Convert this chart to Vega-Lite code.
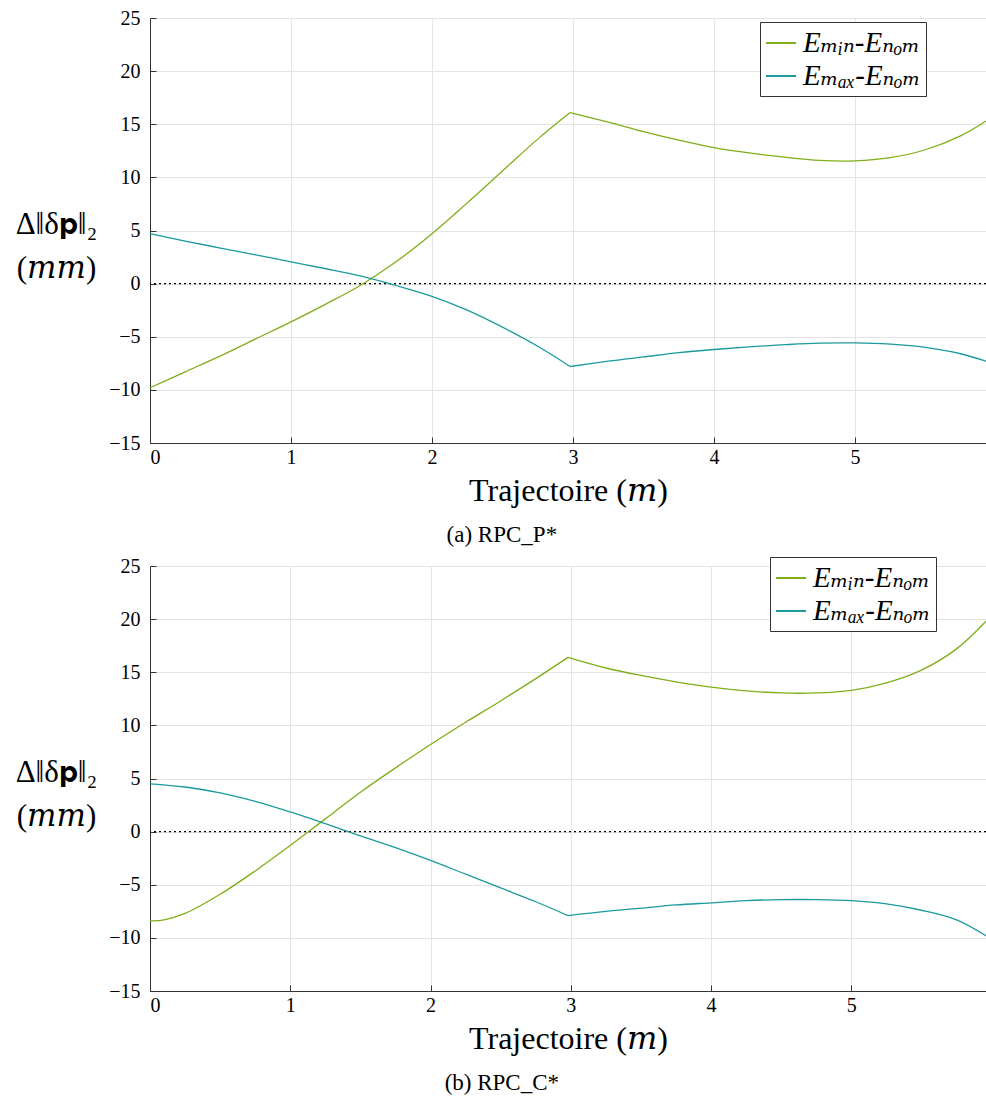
{
  "$schema": "https://vega.github.io/schema/vega-lite/v6.json",
  "padding": {"top": 8, "left": 15, "right": 0, "bottom": 0},
  "background": "white",
  "spacing": 9,
  "datasets": {
    "p1": [
      {"x": 0, "v": -9.8, "s": "Eₘᵢₙ-Eₙₒₘ", "g": 1},
      {"x": 0.25, "v": -8.3, "s": "Eₘᵢₙ-Eₙₒₘ", "g": 1},
      {"x": 0.5, "v": -6.8, "s": "Eₘᵢₙ-Eₙₒₘ", "g": 1},
      {"x": 0.75, "v": -5.2, "s": "Eₘᵢₙ-Eₙₒₘ", "g": 1},
      {"x": 1.0, "v": -3.6, "s": "Eₘᵢₙ-Eₙₒₘ", "g": 1},
      {"x": 1.25, "v": -1.9, "s": "Eₘᵢₙ-Eₙₒₘ", "g": 1},
      {"x": 1.5, "v": -0.1, "s": "Eₘᵢₙ-Eₙₒₘ", "g": 1},
      {"x": 1.75, "v": 2.1, "s": "Eₘᵢₙ-Eₙₒₘ", "g": 1},
      {"x": 2.0, "v": 4.7, "s": "Eₘᵢₙ-Eₙₒₘ", "g": 1},
      {"x": 2.25, "v": 7.6, "s": "Eₘᵢₙ-Eₙₒₘ", "g": 1},
      {"x": 2.5, "v": 10.6, "s": "Eₘᵢₙ-Eₙₒₘ", "g": 1},
      {"x": 2.75, "v": 13.6, "s": "Eₘᵢₙ-Eₙₒₘ", "g": 1},
      {"x": 2.98, "v": 16.1, "s": "Eₘᵢₙ-Eₙₒₘ", "g": 1},
      {"x": 2.98, "v": 16.1, "s": "Eₘᵢₙ-Eₙₒₘ", "g": 2},
      {"x": 3.25, "v": 15.2, "s": "Eₘᵢₙ-Eₙₒₘ", "g": 2},
      {"x": 3.5, "v": 14.3, "s": "Eₘᵢₙ-Eₙₒₘ", "g": 2},
      {"x": 3.75, "v": 13.5, "s": "Eₘᵢₙ-Eₙₒₘ", "g": 2},
      {"x": 4.0, "v": 12.8, "s": "Eₘᵢₙ-Eₙₒₘ", "g": 2},
      {"x": 4.25, "v": 12.3, "s": "Eₘᵢₙ-Eₙₒₘ", "g": 2},
      {"x": 4.5, "v": 11.9, "s": "Eₘᵢₙ-Eₙₒₘ", "g": 2},
      {"x": 4.75, "v": 11.6, "s": "Eₘᵢₙ-Eₙₒₘ", "g": 2},
      {"x": 5.0, "v": 11.55, "s": "Eₘᵢₙ-Eₙₒₘ", "g": 2},
      {"x": 5.25, "v": 11.85, "s": "Eₘᵢₙ-Eₙₒₘ", "g": 2},
      {"x": 5.5, "v": 12.6, "s": "Eₘᵢₙ-Eₙₒₘ", "g": 2},
      {"x": 5.75, "v": 13.9, "s": "Eₘᵢₙ-Eₙₒₘ", "g": 2},
      {"x": 5.93, "v": 15.3, "s": "Eₘᵢₙ-Eₙₒₘ", "g": 2},
      {"x": 0, "v": 4.7, "s": "Eₘₐₓ-Eₙₒₘ", "g": 1},
      {"x": 0.25, "v": 4.0, "s": "Eₘₐₓ-Eₙₒₘ", "g": 1},
      {"x": 0.5, "v": 3.35, "s": "Eₘₐₓ-Eₙₒₘ", "g": 1},
      {"x": 0.75, "v": 2.7, "s": "Eₘₐₓ-Eₙₒₘ", "g": 1},
      {"x": 1.0, "v": 2.05, "s": "Eₘₐₓ-Eₙₒₘ", "g": 1},
      {"x": 1.25, "v": 1.4, "s": "Eₘₐₓ-Eₙₒₘ", "g": 1},
      {"x": 1.5, "v": 0.7, "s": "Eₘₐₓ-Eₙₒₘ", "g": 1},
      {"x": 1.75, "v": -0.2, "s": "Eₘₐₓ-Eₙₒₘ", "g": 1},
      {"x": 2.0, "v": -1.2, "s": "Eₘₐₓ-Eₙₒₘ", "g": 1},
      {"x": 2.25, "v": -2.5, "s": "Eₘₐₓ-Eₙₒₘ", "g": 1},
      {"x": 2.5, "v": -4.1, "s": "Eₘₐₓ-Eₙₒₘ", "g": 1},
      {"x": 2.75, "v": -5.9, "s": "Eₘₐₓ-Eₙₒₘ", "g": 1},
      {"x": 2.98, "v": -7.8, "s": "Eₘₐₓ-Eₙₒₘ", "g": 1},
      {"x": 2.98, "v": -7.8, "s": "Eₘₐₓ-Eₙₒₘ", "g": 2},
      {"x": 3.25, "v": -7.3, "s": "Eₘₐₓ-Eₙₒₘ", "g": 2},
      {"x": 3.5, "v": -6.9, "s": "Eₘₐₓ-Eₙₒₘ", "g": 2},
      {"x": 3.75, "v": -6.5, "s": "Eₘₐₓ-Eₙₒₘ", "g": 2},
      {"x": 4.0, "v": -6.2, "s": "Eₘₐₓ-Eₙₒₘ", "g": 2},
      {"x": 4.25, "v": -5.95, "s": "Eₘₐₓ-Eₙₒₘ", "g": 2},
      {"x": 4.5, "v": -5.75, "s": "Eₘₐₓ-Eₙₒₘ", "g": 2},
      {"x": 4.75, "v": -5.6, "s": "Eₘₐₓ-Eₙₒₘ", "g": 2},
      {"x": 5.0, "v": -5.58, "s": "Eₘₐₓ-Eₙₒₘ", "g": 2},
      {"x": 5.25, "v": -5.7, "s": "Eₘₐₓ-Eₙₒₘ", "g": 2},
      {"x": 5.5, "v": -6.0, "s": "Eₘₐₓ-Eₙₒₘ", "g": 2},
      {"x": 5.75, "v": -6.6, "s": "Eₘₐₓ-Eₙₒₘ", "g": 2},
      {"x": 5.93, "v": -7.3, "s": "Eₘₐₓ-Eₙₒₘ", "g": 2}
    ],
    "p2": [
      {"x": 0, "v": -8.4, "s": "Eₘᵢₙ-Eₙₒₘ", "g": 1},
      {"x": 0.1, "v": -8.3, "s": "Eₘᵢₙ-Eₙₒₘ", "g": 1},
      {"x": 0.25, "v": -7.7, "s": "Eₘᵢₙ-Eₙₒₘ", "g": 1},
      {"x": 0.5, "v": -5.9, "s": "Eₘᵢₙ-Eₙₒₘ", "g": 1},
      {"x": 0.75, "v": -3.7, "s": "Eₘᵢₙ-Eₙₒₘ", "g": 1},
      {"x": 1.0, "v": -1.3, "s": "Eₘᵢₙ-Eₙₒₘ", "g": 1},
      {"x": 1.25, "v": 1.2, "s": "Eₘᵢₙ-Eₙₒₘ", "g": 1},
      {"x": 1.5, "v": 3.7, "s": "Eₘᵢₙ-Eₙₒₘ", "g": 1},
      {"x": 1.75, "v": 6.0, "s": "Eₘᵢₙ-Eₙₒₘ", "g": 1},
      {"x": 2.0, "v": 8.2, "s": "Eₘᵢₙ-Eₙₒₘ", "g": 1},
      {"x": 2.25, "v": 10.3, "s": "Eₘᵢₙ-Eₙₒₘ", "g": 1},
      {"x": 2.5, "v": 12.3, "s": "Eₘᵢₙ-Eₙₒₘ", "g": 1},
      {"x": 2.75, "v": 14.4, "s": "Eₘᵢₙ-Eₙₒₘ", "g": 1},
      {"x": 2.98, "v": 16.4, "s": "Eₘᵢₙ-Eₙₒₘ", "g": 1},
      {"x": 2.98, "v": 16.4, "s": "Eₘᵢₙ-Eₙₒₘ", "g": 2},
      {"x": 3.25, "v": 15.4, "s": "Eₘᵢₙ-Eₙₒₘ", "g": 2},
      {"x": 3.5, "v": 14.7, "s": "Eₘᵢₙ-Eₙₒₘ", "g": 2},
      {"x": 3.75, "v": 14.1, "s": "Eₘᵢₙ-Eₙₒₘ", "g": 2},
      {"x": 4.0, "v": 13.6, "s": "Eₘᵢₙ-Eₙₒₘ", "g": 2},
      {"x": 4.25, "v": 13.25, "s": "Eₘᵢₙ-Eₙₒₘ", "g": 2},
      {"x": 4.5, "v": 13.05, "s": "Eₘᵢₙ-Eₙₒₘ", "g": 2},
      {"x": 4.75, "v": 13.05, "s": "Eₘᵢₙ-Eₙₒₘ", "g": 2},
      {"x": 5.0, "v": 13.3, "s": "Eₘᵢₙ-Eₙₒₘ", "g": 2},
      {"x": 5.25, "v": 14.0, "s": "Eₘᵢₙ-Eₙₒₘ", "g": 2},
      {"x": 5.5, "v": 15.2, "s": "Eₘᵢₙ-Eₙₒₘ", "g": 2},
      {"x": 5.75, "v": 17.2, "s": "Eₘᵢₙ-Eₙₒₘ", "g": 2},
      {"x": 5.96, "v": 19.8, "s": "Eₘᵢₙ-Eₙₒₘ", "g": 2},
      {"x": 0, "v": 4.5, "s": "Eₘₐₓ-Eₙₒₘ", "g": 1},
      {"x": 0.25, "v": 4.2, "s": "Eₘₐₓ-Eₙₒₘ", "g": 1},
      {"x": 0.5, "v": 3.65, "s": "Eₘₐₓ-Eₙₒₘ", "g": 1},
      {"x": 0.75, "v": 2.85, "s": "Eₘₐₓ-Eₙₒₘ", "g": 1},
      {"x": 1.0, "v": 1.85, "s": "Eₘₐₓ-Eₙₒₘ", "g": 1},
      {"x": 1.25, "v": 0.75, "s": "Eₘₐₓ-Eₙₒₘ", "g": 1},
      {"x": 1.5, "v": -0.4, "s": "Eₘₐₓ-Eₙₒₘ", "g": 1},
      {"x": 1.75, "v": -1.5, "s": "Eₘₐₓ-Eₙₒₘ", "g": 1},
      {"x": 2.0, "v": -2.7, "s": "Eₘₐₓ-Eₙₒₘ", "g": 1},
      {"x": 2.25, "v": -4.0, "s": "Eₘₐₓ-Eₙₒₘ", "g": 1},
      {"x": 2.5, "v": -5.3, "s": "Eₘₐₓ-Eₙₒₘ", "g": 1},
      {"x": 2.75, "v": -6.6, "s": "Eₘₐₓ-Eₙₒₘ", "g": 1},
      {"x": 2.98, "v": -7.9, "s": "Eₘₐₓ-Eₙₒₘ", "g": 1},
      {"x": 2.98, "v": -7.9, "s": "Eₘₐₓ-Eₙₒₘ", "g": 2},
      {"x": 3.25, "v": -7.5, "s": "Eₘₐₓ-Eₙₒₘ", "g": 2},
      {"x": 3.5, "v": -7.2, "s": "Eₘₐₓ-Eₙₒₘ", "g": 2},
      {"x": 3.75, "v": -6.9, "s": "Eₘₐₓ-Eₙₒₘ", "g": 2},
      {"x": 4.0, "v": -6.7, "s": "Eₘₐₓ-Eₙₒₘ", "g": 2},
      {"x": 4.25, "v": -6.5, "s": "Eₘₐₓ-Eₙₒₘ", "g": 2},
      {"x": 4.5, "v": -6.4, "s": "Eₘₐₓ-Eₙₒₘ", "g": 2},
      {"x": 4.75, "v": -6.4, "s": "Eₘₐₓ-Eₙₒₘ", "g": 2},
      {"x": 5.0, "v": -6.5, "s": "Eₘₐₓ-Eₙₒₘ", "g": 2},
      {"x": 5.25, "v": -6.8, "s": "Eₘₐₓ-Eₙₒₘ", "g": 2},
      {"x": 5.5, "v": -7.4, "s": "Eₘₐₓ-Eₙₒₘ", "g": 2},
      {"x": 5.75, "v": -8.3, "s": "Eₘₐₓ-Eₙₒₘ", "g": 2},
      {"x": 5.96, "v": -9.8, "s": "Eₘₐₓ-Eₙₒₘ", "g": 2}
    ],
    "zero": [{"y": 0}]
  },
  "vconcat": [
    {
      "width": 836,
      "height": 425,
      "title": {"text": "(a) RPC_P*", "orient": "bottom", "anchor": "middle", "frame": "bounds", "offset": 18},
      "layer": [
        {
          "data": {"name": "zero"},
          "mark": {"type": "rule", "color": "black", "strokeDash": [2, 3], "strokeWidth": 1.3},
          "encoding": {"y": {"field": "y", "type": "quantitative"}}
        },
        {
          "data": {"name": "p1"},
          "mark": {"type": "line", "interpolate": "catmull-rom", "strokeWidth": 1.3},
          "encoding": {
            "x": {"field": "x", "type": "quantitative", "scale": {"domain": [0, 5.93], "nice": false, "zero": false},
                  "axis": {"values": [0, 1, 2, 3, 4, 5], "title": "Trajectoire (𝑚)"}},
            "y": {"field": "v", "type": "quantitative", "scale": {"domain": [-15, 25], "nice": false},
                  "axis": {"values": [-15, -10, -5, 0, 5, 10, 15, 20, 25], "title": ["Δ‖δ𝐩‖₂", "(𝑚𝑚)"]}},
            "detail": {"field": "g", "type": "nominal"},
            "color": {"field": "s", "type": "nominal",
                      "scale": {"domain": ["Eₘᵢₙ-Eₙₒₘ", "Eₘₐₓ-Eₙₒₘ"], "range": ["#7FAE1A", "#1A9A9E"]},
                      "legend": {"legendX": 610, "legendY": 4}}
          }
        }
      ]
    },
    {
      "width": 836,
      "height": 425,
      "title": {"text": "(b) RPC_C*", "orient": "bottom", "anchor": "middle", "frame": "bounds", "offset": 18},
      "layer": [
        {
          "data": {"name": "zero"},
          "mark": {"type": "rule", "color": "black", "strokeDash": [2, 3], "strokeWidth": 1.3},
          "encoding": {"y": {"field": "y", "type": "quantitative"}}
        },
        {
          "data": {"name": "p2"},
          "mark": {"type": "line", "interpolate": "catmull-rom", "strokeWidth": 1.3},
          "encoding": {
            "x": {"field": "x", "type": "quantitative", "scale": {"domain": [0, 5.96], "nice": false, "zero": false},
                  "axis": {"values": [0, 1, 2, 3, 4, 5], "title": "Trajectoire (𝑚)"}},
            "y": {"field": "v", "type": "quantitative", "scale": {"domain": [-15, 25], "nice": false},
                  "axis": {"values": [-15, -10, -5, 0, 5, 10, 15, 20, 25], "title": ["Δ‖δ𝐩‖₂", "(𝑚𝑚)"]}},
            "detail": {"field": "g", "type": "nominal"},
            "color": {"field": "s", "type": "nominal",
                      "scale": {"domain": ["Eₘᵢₙ-Eₙₒₘ", "Eₘₐₓ-Eₙₒₘ"], "range": ["#7FAE1A", "#1A9A9E"]},
                      "legend": {"legendX": 620, "legendY": -9}}
          }
        }
      ]
    }
  ],
  "resolve": {"scale": {"color": "independent", "x": "independent", "y": "independent"}, "legend": {"color": "independent"}},
  "config": {
    "view": {"stroke": null},
    "font": "Liberation Serif",
    "axis": {
      "domainColor": "#333333",
      "domainWidth": 1,
      "gridColor": "#e4e4e4",
      "gridWidth": 1,
      "tickColor": "#333333",
      "tickSize": -6,
      "labelFont": "Liberation Serif",
      "labelFontSize": 20,
      "labelColor": "black",
      "titleFont": "Liberation Serif, DejaVu Serif",
      "titleColor": "black",
      "titleFontWeight": "normal"
    },
    "axisX": {"labelPadding": 10, "titleFontSize": 32, "titlePadding": 8},
    "axisY": {"labelPadding": 16, "titleFontSize": 31, "titleAngle": 0, "titleAlign": "center", "titleBaseline": "middle", "titleX": -94, "titleY": 206, "titleLineHeight": 44},
    "legend": {
      "orient": "none",
      "title": null,
      "strokeColor": "#333333",
      "fillColor": "white",
      "padding": 5,
      "symbolType": "stroke",
      "symbolSize": 900,
      "symbolStrokeWidth": 2,
      "labelFont": "Liberation Serif, DejaVu Serif",
      "labelFontSize": 29,
      "labelFontStyle": "italic",
      "labelColor": "black",
      "rowPadding": 2,
      "labelOffset": 6
    },
    "title": {"font": "Liberation Serif", "fontSize": 23, "fontWeight": "normal", "color": "black"}
  }
}
